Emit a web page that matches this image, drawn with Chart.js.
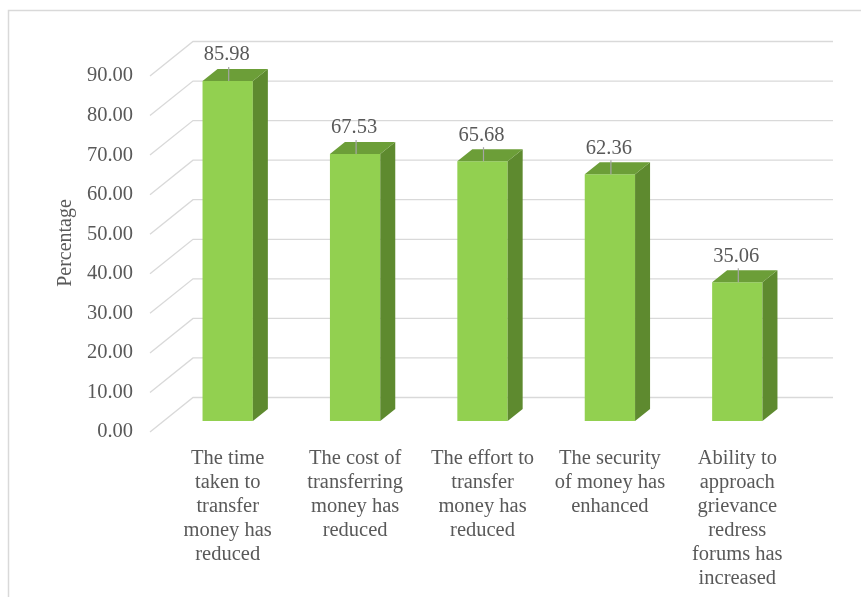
<!DOCTYPE html>
<html>
<head>
<meta charset="utf-8">
<script src="https://cdn.jsdelivr.net/npm/chart.js@4/dist/chart.umd.min.js"></script>
<style>
  html, body { margin: 0; padding: 0; background: #ffffff; }
  canvas { display: block; }
</style>
</head>
<body>
<canvas id="chart" width="861" height="597"></canvas>
<script>
// Share of respondents reporting each benefit of electronic money transfer
const categories = [
  ["The time", "taken to", "transfer", "money has", "reduced"],
  ["The cost of", "transferring", "money has", "reduced"],
  ["The effort to", "transfer", "money has", "reduced"],
  ["The security", "of money has", "enhanced"],
  ["Ability to", "approach", "grievance", "redress", "forums has", "increased"]
];
const percentages = [85.98, 67.53, 65.68, 62.36, 35.06];
const yTicks = [0, 10, 20, 30, 40, 50, 60, 70, 80, 90];

const TEXT = '#595959';
const GRID = '#d9d9d9';
const FONT = '"Liberation Serif", "Times New Roman", serif';

// 3D look: depth offset of the bar prisms and of the back wall
const DEPTH_X = 15, DEPTH_Y = 12;

const frame = {
  id: 'frame',
  beforeDraw(chart) {
    const ctx = chart.ctx;
    ctx.save();
    ctx.fillStyle = '#ffffff';
    ctx.fillRect(0, 0, chart.width, chart.height);
    ctx.strokeStyle = GRID;
    ctx.lineWidth = 1.5;
    ctx.beginPath();
    ctx.moveTo(8.5, chart.height + 2);
    ctx.lineTo(8.5, 10.5);
    ctx.lineTo(chart.width + 2, 10.5);
    ctx.stroke();
    ctx.restore();
  }
};

// back-wall gridlines and the slanted floor/side lines leading to the tick labels
const wall = {
  id: 'wall',
  beforeDatasetsDraw(chart) {
    const ctx = chart.ctx, ca = chart.chartArea, y = chart.scales.y;
    const backL = ca.left + 29, backR = ca.right + 32, frontL = ca.left - 14;
    ctx.save();
    ctx.strokeStyle = GRID;
    ctx.lineWidth = 1.3;
    yTicks.forEach(v => {
      const py = y.getPixelForValue(v);
      ctx.beginPath();
      ctx.moveTo(frontL, py + 11);
      ctx.lineTo(backL, py - 23.5);
      ctx.lineTo(backR, py - 23.5);
      ctx.stroke();
    });
    ctx.restore();
  }
};

// top and side faces of each bar, plus value labels with leader lines
const prism = {
  id: 'prism',
  afterDatasetsDraw(chart) {
    const ctx = chart.ctx;
    const meta = chart.getDatasetMeta(0);
    ctx.save();
    meta.data.forEach((bar, i) => {
      const { x, y, base, width } = bar.getProps(['x', 'y', 'base', 'width'], true);
      const l = x - width / 2, r = x + width / 2;
      // side face
      ctx.fillStyle = '#5e8a2f';
      ctx.beginPath();
      ctx.moveTo(r, y);
      ctx.lineTo(r + DEPTH_X, y - DEPTH_Y);
      ctx.lineTo(r + DEPTH_X, base - DEPTH_Y);
      ctx.lineTo(r, base);
      ctx.closePath();
      ctx.fill();
      // top face
      ctx.fillStyle = '#6c9e38';
      ctx.beginPath();
      ctx.moveTo(l, y);
      ctx.lineTo(l + DEPTH_X, y - DEPTH_Y);
      ctx.lineTo(r + DEPTH_X, y - DEPTH_Y);
      ctx.lineTo(r, y);
      ctx.closePath();
      ctx.fill();
      // leader line
      ctx.strokeStyle = '#a6a6a6';
      ctx.lineWidth = 1.2;
      ctx.beginPath();
      ctx.moveTo(x + 1, y - 14);
      ctx.lineTo(x + 1, y);
      ctx.stroke();
      // value label
      ctx.fillStyle = TEXT;
      ctx.font = '20.5px ' + FONT;
      ctx.textAlign = 'center';
      ctx.textBaseline = 'middle';
      ctx.fillText(percentages[i].toFixed(2), x - 1, y - 26);
    });
    ctx.restore();
  }
};

new Chart(document.getElementById('chart'), {
  type: 'bar',
  data: {
    labels: categories,
    datasets: [{
      data: percentages,
      backgroundColor: '#92d050',
      borderWidth: 0,
      categoryPercentage: 1,
      barPercentage: 0.395
    }]
  },
  options: {
    responsive: false,
    animation: false,
    devicePixelRatio: 1,
    layout: { padding: { left: 40, right: 60, top: 65, bottom: 0 } },
    plugins: {
      legend: { display: false },
      tooltip: { enabled: false }
    },
    scales: {
      x: {
        grid: { display: false, drawTicks: false },
        border: { display: false },
        ticks: {
          color: TEXT,
          font: { family: FONT, size: 20.5, lineHeight: 24 / 20.5 },
          padding: 26,
          maxRotation: 0,
          autoSkip: false
        },
        afterFit(scale) { scale.height = 176; }
      },
      y: {
        min: 0,
        max: 90,
        grid: { display: false, drawTicks: false },
        border: { display: false },
        afterBuildTicks(scale) { scale.ticks = yTicks.map(v => ({ value: v })); },
        ticks: {
          color: TEXT,
          font: { family: FONT, size: 20.5 },
          padding: 31,
          labelOffset: 11,
          callback: v => Number(v).toFixed(2)
        },
        title: {
          display: true,
          text: 'Percentage',
          color: TEXT,
          font: { family: FONT, size: 20, lineHeight: 1.2 },
          padding: { top: 14, bottom: 0 }
        },
        afterFit(scale) { scale.width = 124; }
      }
    }
  },
  plugins: [frame, wall, prism]
});
</script>
</body>
</html>
